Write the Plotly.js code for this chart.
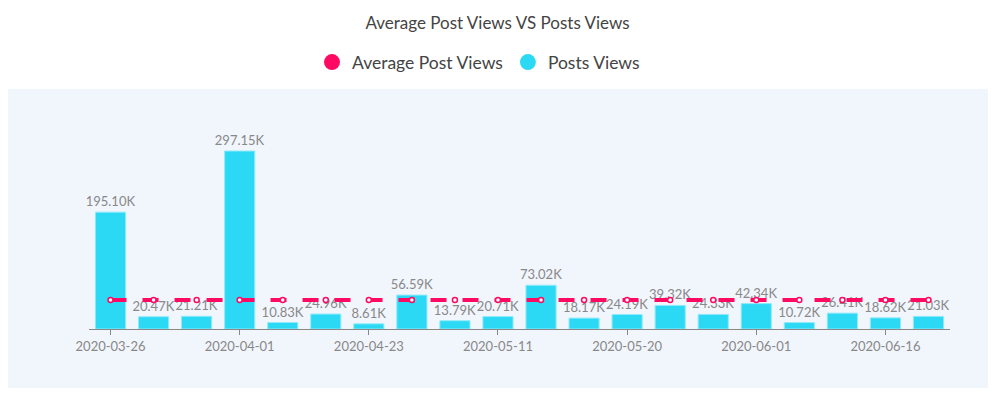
<!DOCTYPE html>
<html>
<head>
<meta charset="utf-8">
<script src="https://cdn.plot.ly/plotly-3.0.1.min.js"></script>
<style>html,body{margin:0;padding:0;background:#fff;}#chart{width:995px;height:396px;}</style>
</head>
<body>
<div id="chart"></div>
<script>
// Data (values in thousands of views)
const dates = ["2020-03-26","2020-03-28","2020-03-30","2020-04-01","2020-04-08","2020-04-15","2020-04-23",
  "2020-04-29","2020-05-05","2020-05-11","2020-05-14","2020-05-17","2020-05-20","2020-05-24","2020-05-28",
  "2020-06-01","2020-06-06","2020-06-11","2020-06-16","2020-06-21"];
const postsViews = [195.10,20.47,21.21,297.15,10.83,24.96,8.61,56.59,13.79,20.71,73.02,18.17,24.19,39.32,24.33,42.34,10.72,26.41,18.62,21.03];
const averageViews = [48.38,48.38,48.38,48.38,48.38,48.38,48.38,48.38,48.38,48.38,48.38,48.38,48.38,48.38,48.38,48.38,48.38,48.38,48.38,48.38];
const tickDates = ["2020-03-26","2020-04-01","2020-04-23","2020-05-11","2020-05-20","2020-06-01","2020-06-16"];

const PINK = "#ff0a62";
const CYAN = "#2bd9f5";
const FONT = "Lato, 'Open Sans', sans-serif";

const traces = [
  {
    type: "bar", x: dates, y: postsViews, name: "Posts Views", showlegend: false,
    marker: {color: CYAN, line: {color: "#8eeafa", width: 1}},
    texttemplate: "%{y:.2f}K", textposition: "outside", cliponaxis: false,
    textfont: {family: FONT, size: 13, color: "#888888"},
    hoverinfo: "x+y"
  },
  {
    type: "scatter", mode: "lines+markers", x: dates, y: averageViews, name: "Average Post Views", showlegend: false,
    line: {color: PINK, width: 4, dash: "16px,16px"},
    marker: {symbol: "circle", size: 5, color: "#ffffff", line: {color: PINK, width: 1.5}}
  },
  {
    type: "scatter", mode: "markers", x: [null], y: [null], name: "Average Post Views",
    marker: {symbol: "circle", size: 16, color: PINK}, hoverinfo: "skip"
  },
  {
    type: "scatter", mode: "markers", x: [null], y: [null], name: "Posts Views",
    marker: {symbol: "circle", size: 16, color: CYAN}, hoverinfo: "skip"
  }
];

const layout = {
  width: 995, height: 396,
  margin: {l: 89, r: 45, t: 100, b: 67},
  paper_bgcolor: "#ffffff",
  plot_bgcolor: "rgba(0,0,0,0)",
  uniformtext: {mode: false},
  title: {text: "Average Post Views VS Posts Views", x: 0.5, xanchor: "center", y: 0.943, yanchor: "middle",
    font: {family: FONT, size: 17, color: "#444444"}},
  showlegend: true,
  legend: {orientation: "h", x: 223/861, xanchor: "left", y: 1.165, yanchor: "middle",
    font: {family: FONT, size: 17.5, color: "#444444"}, bgcolor: "rgba(0,0,0,0)", itemwidth: 30},
  bargap: 0.3,
  xaxis: {
    type: "category", range: [-0.5, 19.5], showgrid: false, zeroline: false,
    showline: true, linecolor: "#888888", linewidth: 1,
    ticks: "outside", ticklen: 5, tickcolor: "#888888",
    tickmode: "array", tickvals: tickDates, ticktext: tickDates,
    tickfont: {family: FONT, size: 13, color: "#888888"}, fixedrange: true
  },
  yaxis: {range: [0, 382.3], showgrid: false, zeroline: false, showline: false,
    showticklabels: false, ticks: "", fixedrange: true},
  shapes: [{type: "rect", xref: "paper", yref: "paper", layer: "below",
    x0: -81/861, x1: 899/861, y0: -59/229, y1: 240/229,
    fillcolor: "#f1f5fc", line: {width: 0}}]
};
// keep bar labels at full size
traces[0].constraintext = "none";

Plotly.newPlot("chart", traces, layout, {displayModeBar: false, responsive: false});
</script>
</body>
</html>
